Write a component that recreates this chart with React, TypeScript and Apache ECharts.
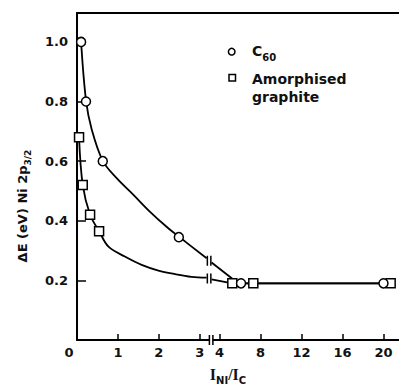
import React, { useEffect, useRef } from "react";
import * as echarts from "echarts";

// ---- data (real x = I_Ni / I_C, y = ΔE in eV) ----
const xTickValues = [0, 1, 2, 3, 4, 8, 12, 16, 20];
const yTickLabels = ["0.2", "0.4", "0.6", "0.8", "1.0"];

const c60X = [0.1, 0.22, 0.63, 2.49, 6.1, 20];
const c60Y = [1.0, 0.8, 0.6, 0.345, 0.19, 0.19];
const graphiteX = [0.05, 0.14, 0.32, 0.54, 5.25, 7.3, 20.7];
const graphiteY = [0.68, 0.52, 0.42, 0.365, 0.19, 0.19, 0.19];

const c60CurveLeftX = [0.1, 0.22, 0.36, 0.63, 0.97, 1.38, 1.78, 2.19, 2.49, 3.17];
const c60CurveLeftY = [1.0, 0.804, 0.706, 0.601, 0.543, 0.487, 0.431, 0.38, 0.347, 0.274];
const c60CurveRightX = [3.29, 5.6, 6.1, 20];
const c60CurveRightY = [0.26, 0.196, 0.19, 0.19];
const graphiteCurveLeftX = [0.05, 0.14, 0.32, 0.54, 0.77, 1.17, 1.58, 1.99, 2.4, 2.8, 3.17];
const graphiteCurveLeftY = [0.68, 0.52, 0.42, 0.365, 0.313, 0.28, 0.252, 0.233, 0.221, 0.212, 0.209];
const graphiteCurveRightX = [3.29, 5.25, 7.3, 20.7];
const graphiteCurveRightY = [0.203, 0.19, 0.19, 0.19];

const curveBreakX = [3.23, 3.23];
const curveBreakY = [0.266, 0.206];
const axisBreakX = [3.28];

// ---- broken x scale ----
const LEFT_END = 3.5;
const BREAK_AT = 4;
const RIGHT_START_POS = 3.484;
const RIGHT_SCALE = 0.2506;
const X_MAX_POS = 7.873;
const Y_MAX = 1.097;

const toPos = (x: number) => (x <= LEFT_END ? x : RIGHT_START_POS + (x - BREAK_AT) * RIGHT_SCALE);
const pairs = (xs: number[], ys: number[]) => xs.map((x, i) => [toPos(x), ys[i]]);

const FONT = "DejaVu Sans";
const BARS = "path://M0 0h3v20h-3zM7 0h3v20h-3z";

export default function App() {
  const ref = useRef<HTMLDivElement>(null);
  useEffect(() => {
    if (!ref.current) return;
    const chart = echarts.init(ref.current, null, { renderer: "svg" });
    const labelMap = new Map<string, string>();
    xTickValues.forEach((v) => labelMap.set(toPos(v).toFixed(4), String(v)));
    const tickPos = xTickValues.map(toPos);

    const lineBase = {
      type: "line",
      showSymbol: false,
      symbol: "none",
      lineStyle: { color: "#000", width: 1.8, opacity: 1 },
      silent: true,
      z: 2,
    };
    const markerStyle = { color: "#fff", borderColor: "#000", borderWidth: 1.5, opacity: 1 };

    chart.setOption({
      animation: false,
      backgroundColor: "#fff",
      grid: { left: 77, right: 0, top: 13, bottom: 45 },
      xAxis: [
        {
          type: "value",
          min: 0,
          max: X_MAX_POS,
          splitLine: { show: false },
          axisLine: { lineStyle: { color: "#000", width: 2 } },
          axisTick: {
            inside: true,
            length: 6,
            customValues: tickPos,
            lineStyle: { color: "#000", width: 1.5 },
          },
          axisLabel: {
            customValues: tickPos,
            margin: 6,
            color: "#111",
            fontFamily: FONT,
            fontWeight: "bold",
            fontSize: 13,
            formatter: (v: number) => {
              const s = labelMap.get(v.toFixed(4)) ?? "";
              return s === "0" ? "{z|0}" : s;
            },
            rich: {
              z: { fontFamily: FONT, fontWeight: "bold", fontSize: 13, color: "#111", padding: [0, 16, 0, 0] },
            },
          },
        },
        {
          type: "value",
          position: "top",
          min: 0,
          max: X_MAX_POS,
          splitLine: { show: false },
          axisLine: { lineStyle: { color: "#000", width: 2 } },
          axisTick: { show: false },
          axisLabel: { show: false },
        },
      ],
      yAxis: {
        type: "value",
        min: 0,
        max: Y_MAX,
        interval: 0.2,
        splitLine: { show: false },
        axisLine: { show: true, lineStyle: { color: "#000", width: 2 } },
        axisTick: { inside: true, length: 9, lineStyle: { color: "#000", width: 1.5 } },
        axisLabel: {
          margin: 9,
          showMaxLabel: false,
          color: "#111",
          fontFamily: FONT,
          fontWeight: "bold",
          fontSize: 13,
          formatter: (v: number) => {
            const idx = Math.round(v / 0.2) - 1;
            return idx >= 0 && idx < yTickLabels.length && Math.abs(v - (idx + 1) * 0.2) < 1e-6 ? yTickLabels[idx] : "";
          },
        },
      },
      series: [
        { ...lineBase, name: "c60-left", smooth: 0.35, data: pairs(c60CurveLeftX, c60CurveLeftY) },
        { ...lineBase, name: "c60-right", smooth: false, data: pairs(c60CurveRightX, c60CurveRightY) },
        { ...lineBase, name: "gr-left", smooth: 0.35, data: pairs(graphiteCurveLeftX, graphiteCurveLeftY) },
        { ...lineBase, name: "gr-right", smooth: false, data: pairs(graphiteCurveRightX, graphiteCurveRightY) },
        {
          type: "scatter",
          name: "Amorphised graphite",
          symbol: "rect",
          symbolSize: 9,
          clip: false,
          itemStyle: markerStyle,
          data: pairs(graphiteX, graphiteY),
          z: 3,
        },
        {
          type: "scatter",
          name: "C60",
          symbol: "circle",
          symbolSize: 9,
          clip: false,
          itemStyle: markerStyle,
          data: pairs(c60X, c60Y),
          z: 4,
        },
        {
          type: "scatter",
          name: "curve-breaks",
          symbol: BARS,
          symbolSize: [5, 10],
          clip: false,
          itemStyle: { color: "#000", opacity: 1 },
          data: pairs(curveBreakX, curveBreakY),
          z: 5,
        },
        {
          type: "scatter",
          name: "axis-break-mask",
          symbol: "rect",
          symbolSize: [2.5, 5],
          clip: false,
          itemStyle: { color: "#fff", opacity: 1 },
          data: axisBreakX.map((x) => [toPos(x), 0]),
          z: 5,
        },
        {
          type: "scatter",
          name: "axis-break",
          symbol: BARS,
          symbolSize: [5, 10],
          clip: false,
          itemStyle: { color: "#000", opacity: 1 },
          data: axisBreakX.map((x) => [toPos(x), 0]),
          z: 6,
        },
      ],
      graphic: [
        {
          type: "circle",
          shape: { cx: 231.7, cy: 51.7, r: 3.3 },
          style: { fill: "#fff", stroke: "#000", lineWidth: 1.5 },
        },
        {
          type: "text",
          x: 252,
          y: 51,
          style: {
            text: "C{s|60}",
            fill: "#111",
            fontFamily: FONT,
            fontWeight: "bold",
            fontSize: 14,
            lineHeight: 22,
            verticalAlign: "middle",
            rich: {
              s: { fontFamily: FONT, fontWeight: "bold", fontSize: 10, fill: "#111", verticalAlign: "bottom", lineHeight: 22 },
            },
          },
        },
        {
          type: "rect",
          shape: { x: 229, y: 74.5, width: 6.5, height: 6.5 },
          style: { fill: "#fff", stroke: "#000", lineWidth: 1.5 },
        },
        {
          type: "text",
          x: 252,
          y: 88,
          style: {
            text: "Amorphised\ngraphite",
            fill: "#111",
            fontFamily: FONT,
            fontWeight: "bold",
            fontSize: 14,
            lineHeight: 18,
            verticalAlign: "middle",
          },
        },
        {
          type: "text",
          x: 228,
          y: 374,
          style: {
            text: "{i|I}{s|NI}{i|/I}{s|C}",
            align: "center",
            verticalAlign: "middle",
            rich: {
              i: { fontFamily: "Liberation Serif", fontWeight: "bold", fontSize: 16, fill: "#111", lineHeight: 22 },
              s: { fontFamily: FONT, fontWeight: "bold", fontSize: 10, fill: "#111", verticalAlign: "bottom", lineHeight: 22 },
            },
          },
        },
        {
          type: "text",
          x: 22,
          y: 206,
          rotation: Math.PI / 2,
          style: {
            text: "ΔE (eV) Ni 2p{s|3/2}",
            align: "center",
            verticalAlign: "middle",
            fill: "#111",
            fontFamily: FONT,
            fontWeight: "bold",
            fontSize: 13,
            lineHeight: 20,
            rich: {
              s: { fontFamily: FONT, fontWeight: "bold", fontSize: 9, fill: "#111", verticalAlign: "bottom", lineHeight: 20 },
            },
          },
        },
      ],
    });
    return () => chart.dispose();
  }, []);
  return (
    <div
      ref={ref}
      style={{ position: "fixed", left: 0, top: 0, width: 399, height: 385, background: "#fff" }}
    />
  );
}
